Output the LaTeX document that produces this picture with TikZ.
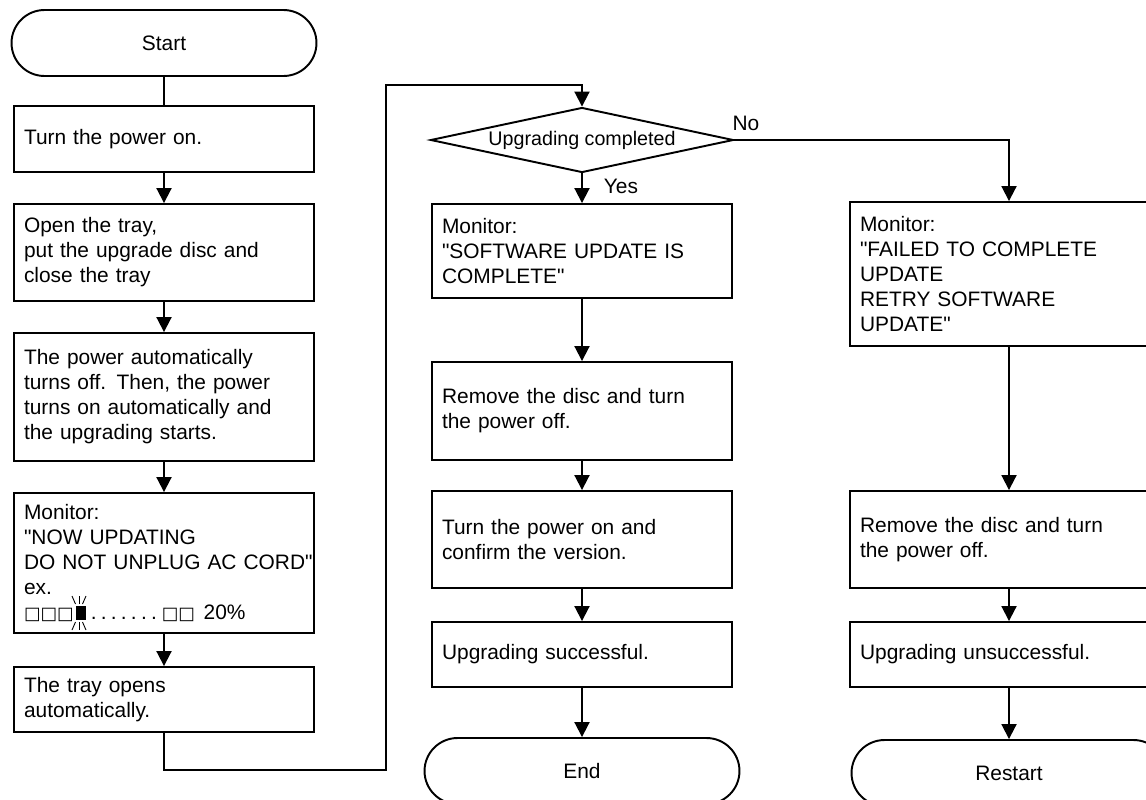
\documentclass[tikz,border=0pt]{standalone}
\usepackage{fontspec}
\setmainfont{Liberation Sans}[Ligatures=TeXOff]
\newfontfamily\symfont{DejaVu Sans}
\usetikzlibrary{shapes.geometric,arrows.meta}

\begin{document}
\begin{tikzpicture}[x=0.02cm, y=-0.02cm, line width=1.1pt,
  every node/.style={font=\fontsize{11.9}{14.2}\selectfont},
  term/.style={draw, rounded corners=0.66cm, minimum width=6.1cm, minimum height=1.32cm},
  stepbox/.style={draw, minimum width=6cm, text width=5.6cm, inner xsep=0.2cm, align=left},
  rightbox/.style={stepbox, minimum width=6.36cm, text width=5.96cm},
  decision/.style={draw, diamond, aspect=4.66, minimum width=6.06cm, minimum height=1.3cm, inner sep=0pt, font=\fontsize{11.2}{13}\selectfont},
  arr/.style={-{Triangle[width=0.3cm,length=0.3cm]}}]

\useasboundingbox (0,0) rectangle (1146,799);

% left column
\node (start) [term] at (164,43) {Start};
\node (b1) [stepbox, minimum height=1.32cm] at (164,139) {Turn the power on.};
\node (b2) [stepbox, minimum height=1.94cm] at (164,252.5) {Open the tray,\\ put the upgrade disc and\\ close the tray};
\node (b3) [stepbox, minimum height=2.56cm] at (164,397) {The power automatically\\ turns off. Then, the power\\ turns on automatically and\\ the upgrading starts.};
\node (b4) [stepbox, minimum height=2.8cm] at (164,563) {Monitor:\\ "NOW UPDATING\\ \mbox{DO NOT UNPLUG AC CORD"}\\ ex.\\
  {\symfont\fontsize{10}{12}\selectfont □□□}\kern1pt\rule[-0.5pt]{5.7pt}{8.2pt}\kern3pt.\kern2.4pt.\kern2.4pt.\kern2.4pt.\kern2.4pt.\kern2.4pt.\kern2.4pt.\kern2.8pt{\symfont\fontsize{10}{12}\selectfont □□}\ \kern1pt 20\%};
\node (b5) [stepbox, minimum height=1.3cm] at (164,699.5) {The tray opens\\ automatically.};

% blinking marks
\foreach \dx in {-7,0,7} {
  \draw [line width=0.5pt] (79+0.5*\dx,604) -- (79+\dx,596);
  \draw [line width=0.5pt] (79+0.5*\dx,622) -- (79+\dx,630);
}

% middle column
\node (dec) [decision] at (582,140) {Upgrading completed};
\node (m1) [stepbox, minimum height=1.88cm] at (582,251) {Monitor:\\ "SOFTWARE UPDATE IS\\ COMPLETE"};
\node (m2) [stepbox, minimum height=1.96cm] at (582,411) {Remove the disc and turn\\ the power off.};
\node (m3) [stepbox, minimum height=1.94cm] at (582,539.5) {Turn the power on and\\ confirm the version.};
\node (m4) [stepbox, minimum height=1.3cm] at (582,654.5) {Upgrading successful.};
\node (fin) [term, minimum width=6.3cm] at (582,771) {End};

% right column
\node (r1) [rightbox, minimum height=2.88cm] at (1009,274) {Monitor:\\ "FAILED TO COMPLETE\\ UPDATE\\ RETRY SOFTWARE\\ UPDATE"};
\node (r2) [rightbox, minimum height=1.94cm] at (1009,539.5) {Remove the disc and turn\\ the power off.};
\node (r3) [rightbox, minimum height=1.3cm] at (1009,654.5) {Upgrading unsuccessful.};
\node (restart) [term, minimum width=6.3cm] at (1009,773) {Restart};

\node (no) at (746,123) {No};
\node (yes) at (621,186) {Yes};

\coordinate (lp1) at (386,770);
\coordinate (lp2) at (386,85);

\draw (start) -- (b1);
\draw [arr] (b1) -- (b2);
\draw [arr] (b2) -- (b3);
\draw [arr] (b3) -- (b4);
\draw [arr] (b4) -- (b5);
\draw [arr] (b5) |- (lp1) -- (lp2) -| (dec);

\draw [arr] (dec) -- (m1);
\draw [arr] (m1) -- (m2);
\draw [arr] (m2) -- (m3);
\draw [arr] (m3) -- (m4);
\draw [arr] (m4) -- (fin);

\draw [arr] (dec) -| (r1);
\draw [arr] (r1) -- (r2);
\draw [arr] (r2) -- (r3);
\draw [arr] (r3) -- (restart);

\end{tikzpicture}
\end{document}
